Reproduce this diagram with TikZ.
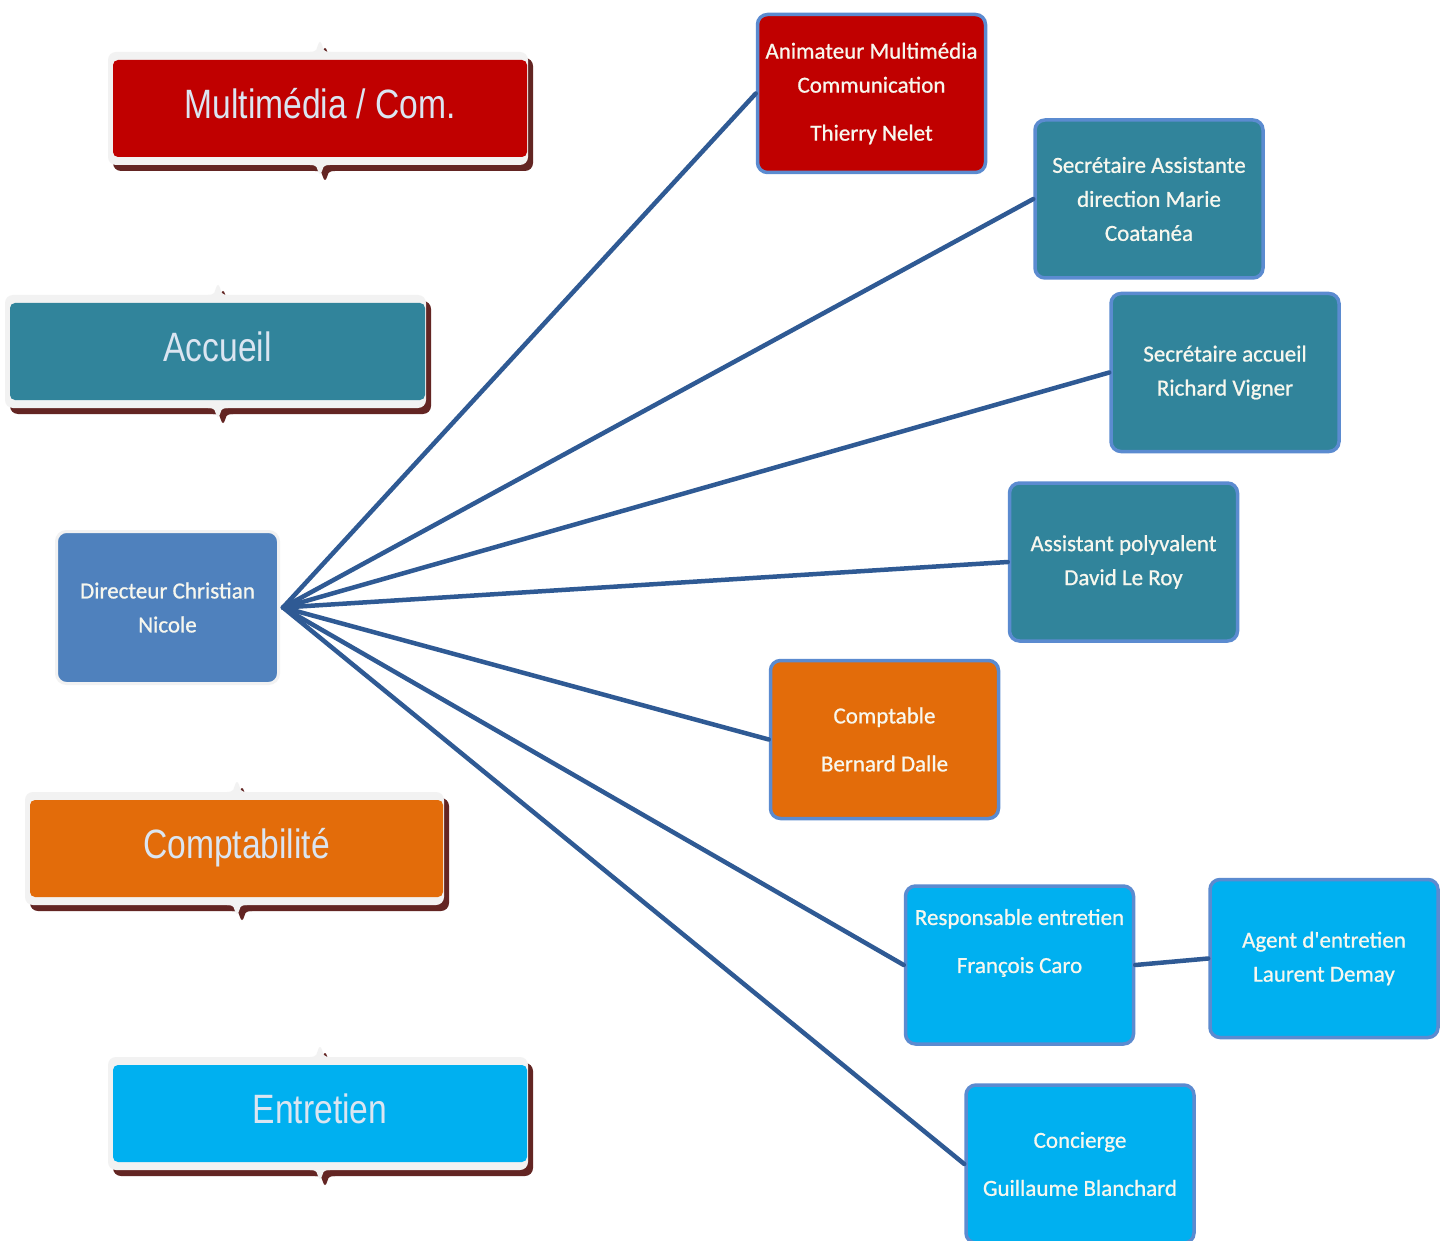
\documentclass[tikz,border=0pt]{standalone}
\usepackage{fontspec}
\newfontfamily\legfont[FakeStretch=0.82]{Liberation Sans}
\newfontfamily\boxfont[FakeBold=0.8]{Carlito}
\definecolor{cRed}{HTML}{C00000}
\definecolor{cTeal}{HTML}{31849B}
\definecolor{cOrange}{HTML}{E36C0A}
\definecolor{cCyan}{HTML}{00B0F0}
\definecolor{cDir}{HTML}{4F81BD}
\definecolor{cBorder}{HTML}{5B8BD0}
\definecolor{cShadow}{HTML}{632523}
\definecolor{cFrame}{HTML}{F2F2F2}
\definecolor{cLine}{HTML}{2F5A94}
\definecolor{cLegText}{HTML}{DBE5F1}
\definecolor{cBoxText}{HTML}{F7F7EE}
\tikzset{
  orgbox/.style={draw=cBorder, line width=3.5pt, rounded corners=10pt,
    minimum width=228pt, minimum height=158pt, inner sep=0pt, align=center,
    text=cBoxText, font=\boxfont\fontsize{23}{34}\selectfont},
  dirbox/.style={orgbox, draw=cFrame, line width=3pt, fill=cDir,
    minimum width=222pt, minimum height=152pt},
  legbox/.style={rounded corners=5pt, inner sep=0pt, text=cLegText,
    text height=20pt, text depth=0pt,
    font=\legfont\fontsize{41}{41}\selectfont},
  conn/.style={draw=cLine, line width=4.5pt, line cap=round},
}
% #1 L, #2 R, #3 T, #4 B, #5 notch x
\newcommand\legframe[5]{%
  \foreach \dx/\dy/\col in {5/6/cShadow,0/0/cFrame}{%
    \begin{scope}[shift={(\dx,\dy)}]
      \fill[\col, rounded corners=8pt] ({#1-5},{#3-8}) rectangle ({#2+1},{#4+8});
      \fill[\col] ({#5-10},{#3-4}) -- ({#5-10},{#3-8})
        .. controls ({#5-3},{#3-8}) and ({#5-2.5},{#3-12}) .. ({#5-2},{#3-15})
        .. controls ({#5-1},{#3-19}) and ({#5+1},{#3-19}) .. ({#5+2},{#3-15})
        .. controls ({#5+2.5},{#3-12}) and ({#5+3},{#3-8}) .. ({#5+10},{#3-8})
        -- ({#5+10},{#3-4}) -- cycle;
      \fill[\col] ({#5-10},{#4+4}) -- ({#5-10},{#4+8})
        .. controls ({#5-3},{#4+8}) and ({#5-2.5},{#4+11}) .. ({#5-2},{#4+14})
        .. controls ({#5-1},{#4+18}) and ({#5+1},{#4+18}) .. ({#5+2},{#4+14})
        .. controls ({#5+2.5},{#4+11}) and ({#5+3},{#4+8}) .. ({#5+10},{#4+8})
        -- ({#5+10},{#4+4}) -- cycle;
    \end{scope}
  }%
}
\begin{document}
\begin{tikzpicture}[x=1pt,y=-1pt]
\useasboundingbox (0,0) rectangle (1451,1241);
\fill[white] (0,0) rectangle (1451,1241);

% legend banners
\legframe{113}{527}{60}{157}{320}
\node[legbox, fill=cRed, minimum width=414pt, minimum height=97pt] (lmulti) at (320,108.5) {Multimédia / Com.};
\legframe{10}{425}{303}{400}{218}
\node[legbox, fill=cTeal, minimum width=415pt, minimum height=97pt] (laccueil) at (217.5,351.5) {Accueil};
\legframe{30}{443}{800}{897}{237}
\node[legbox, fill=cOrange, minimum width=413pt, minimum height=97pt] (lcompta) at (236.5,848.5) {Comptabilité};
\legframe{113}{527}{1065}{1162}{320}
\node[legbox, fill=cCyan, minimum width=414pt, minimum height=97pt] (lentretien) at (320,1113.5) {Entretien};

% director
\node[dirbox] (dir) at (167.5,607.5) {Directeur Christian\\Nicole};

% staff boxes
\node[orgbox, fill=cRed] (anim) at (871.5,93.5) {Animateur Multimédia\\Communication\\[14pt]Thierry Nelet};
\node[orgbox, fill=cTeal] (secA) at (1149,199) {Secrétaire Assistante\\direction Marie\\Coatanéa};
\node[orgbox, fill=cTeal] (secB) at (1225,372.5) {Secrétaire accueil\\Richard Vigner};
\node[orgbox, fill=cTeal] (assist) at (1123.5,562) {Assistant polyvalent\\David Le Roy};
\node[orgbox, fill=cOrange] (compt) at (884.5,739.5) {Comptable\\[14pt]Bernard Dalle};
\node[orgbox, fill=cCyan] (resp) at (1019.5,965) {Responsable entretien\\[14pt]François Caro\\[14pt]~};
\node[orgbox, fill=cCyan] (agent) at (1324,958.5) {Agent d'entretien\\Laurent Demay};
\node[orgbox, fill=cCyan] (conc) at (1080,1164) {Concierge\\[14pt]Guillaume Blanchard};

% connectors
\coordinate (hub) at ([xshift=3pt]dir.east);
\foreach \t in {anim,secA,secB,assist,compt,resp,conc}{
  \draw[conn] (hub) -- (\t.west);
}
\draw[conn] (resp.east) -- (agent.west);
\end{tikzpicture}
\end{document}
